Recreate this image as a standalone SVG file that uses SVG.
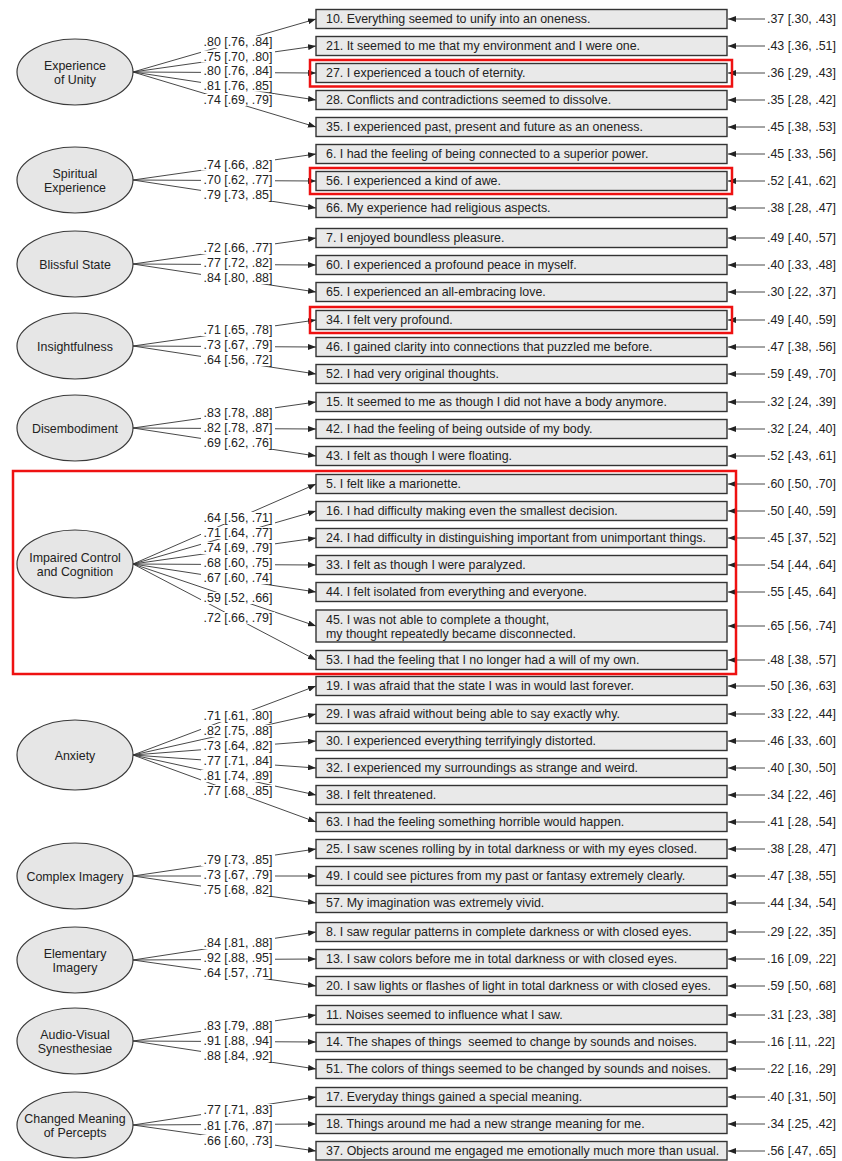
<svg xmlns="http://www.w3.org/2000/svg" width="842" height="1161" viewBox="0 0 842 1161">
<defs>
<marker id="ah" viewBox="0 0 8 6" refX="8" refY="3" markerWidth="8" markerHeight="6" markerUnits="userSpaceOnUse" orient="auto"><path d="M0,0 L8,3 L0,6 z" fill="#222"/></marker>
<style>
.bg{fill:#fff}
.lat ellipse{fill:#e6e6e6;stroke:#3a3a3a;stroke-width:1.2}
.lat text{font-family:"Liberation Sans",Arial,sans-serif;font-size:12.4px;fill:#222;text-anchor:middle}
.item rect.b{fill:#e9e9e9;stroke:#333;stroke-width:1.4}
.item text{font-family:"Liberation Sans",Arial,sans-serif;font-size:12.4px;fill:#222}
.c line{stroke:#333;stroke-width:0.9;fill:none;marker-end:url(#ah)}
.lb rect{fill:#fff}
.lb text{font-family:"Liberation Sans",Arial,sans-serif;font-size:12.4px;fill:#222;text-anchor:middle}
.rl text{font-family:"Liberation Sans",Arial,sans-serif;font-size:12.4px;fill:#222}
.hl{fill:none;stroke:#ee1111;stroke-width:2.5}
</style>
</defs>
<rect class="bg" x="0" y="0" width="842" height="1161"/>

<g id="connectors" class="c">
<!-- Experience of Unity -->
<line x1="133" y1="72" x2="316" y2="19"/><line x1="133" y1="72" x2="316" y2="46"/><line x1="133" y1="72" x2="316" y2="73"/><line x1="133" y1="72" x2="316" y2="100"/><line x1="133" y1="72" x2="316" y2="127"/>
<!-- Spiritual -->
<line x1="133" y1="180" x2="316" y2="154"/><line x1="133" y1="180" x2="316" y2="181"/><line x1="133" y1="180" x2="316" y2="208"/>
<!-- Blissful -->
<line x1="133" y1="264" x2="316" y2="238"/><line x1="133" y1="264" x2="316" y2="265"/><line x1="133" y1="264" x2="316" y2="292"/>
<!-- Insightfulness -->
<line x1="133" y1="346" x2="316" y2="320"/><line x1="133" y1="346" x2="316" y2="347"/><line x1="133" y1="346" x2="316" y2="374"/>
<!-- Disembodiment -->
<line x1="133" y1="428" x2="316" y2="402"/><line x1="133" y1="428" x2="316" y2="429"/><line x1="133" y1="428" x2="316" y2="456"/>
<!-- Impaired -->
<line x1="133" y1="564" x2="316" y2="484"/><line x1="133" y1="564" x2="316" y2="511"/><line x1="133" y1="564" x2="316" y2="538"/><line x1="133" y1="564" x2="316" y2="565"/><line x1="133" y1="564" x2="316" y2="592"/><line x1="133" y1="564" x2="316" y2="626"/><line x1="133" y1="564" x2="316" y2="660"/>
<!-- Anxiety -->
<line x1="133" y1="755" x2="316" y2="686"/><line x1="133" y1="755" x2="316" y2="714"/><line x1="133" y1="755" x2="316" y2="741"/><line x1="133" y1="755" x2="316" y2="768"/><line x1="133" y1="755" x2="316" y2="795"/><line x1="133" y1="755" x2="316" y2="822"/>
<!-- Complex -->
<line x1="133" y1="876" x2="316" y2="849"/><line x1="133" y1="876" x2="316" y2="876"/><line x1="133" y1="876" x2="316" y2="903"/>
<!-- Elementary -->
<line x1="133" y1="960" x2="316" y2="932"/><line x1="133" y1="960" x2="316" y2="959"/><line x1="133" y1="960" x2="316" y2="986"/>
<!-- Audio-Visual -->
<line x1="133" y1="1041" x2="316" y2="1015"/><line x1="133" y1="1041" x2="316" y2="1042"/><line x1="133" y1="1041" x2="316" y2="1069"/>
<!-- Changed Meaning -->
<line x1="133" y1="1125" x2="316" y2="1097"/><line x1="133" y1="1125" x2="316" y2="1124"/><line x1="133" y1="1125" x2="316" y2="1151"/>
<!-- error arrows -->
<line x1="765" y1="19" x2="728" y2="19"/><line x1="765" y1="46" x2="728" y2="46"/><line x1="765" y1="73" x2="728" y2="73"/><line x1="765" y1="100" x2="728" y2="100"/><line x1="765" y1="127" x2="728" y2="127"/>
<line x1="765" y1="154" x2="728" y2="154"/><line x1="765" y1="181" x2="728" y2="181"/><line x1="765" y1="208" x2="728" y2="208"/>
<line x1="765" y1="238" x2="728" y2="238"/><line x1="765" y1="265" x2="728" y2="265"/><line x1="765" y1="292" x2="728" y2="292"/>
<line x1="765" y1="320" x2="728" y2="320"/><line x1="765" y1="347" x2="728" y2="347"/><line x1="765" y1="374" x2="728" y2="374"/>
<line x1="765" y1="402" x2="728" y2="402"/><line x1="765" y1="429" x2="728" y2="429"/><line x1="765" y1="456" x2="728" y2="456"/>
<line x1="765" y1="484" x2="728" y2="484"/><line x1="765" y1="511" x2="728" y2="511"/><line x1="765" y1="538" x2="728" y2="538"/><line x1="765" y1="565" x2="728" y2="565"/><line x1="765" y1="592" x2="728" y2="592"/><line x1="765" y1="626" x2="728" y2="626"/><line x1="765" y1="660" x2="728" y2="660"/>
<line x1="765" y1="686" x2="728" y2="686"/><line x1="765" y1="714" x2="728" y2="714"/><line x1="765" y1="741" x2="728" y2="741"/><line x1="765" y1="768" x2="728" y2="768"/><line x1="765" y1="795" x2="728" y2="795"/><line x1="765" y1="822" x2="728" y2="822"/>
<line x1="765" y1="849" x2="728" y2="849"/><line x1="765" y1="876" x2="728" y2="876"/><line x1="765" y1="903" x2="728" y2="903"/>
<line x1="765" y1="932" x2="728" y2="932"/><line x1="765" y1="959" x2="728" y2="959"/><line x1="765" y1="986" x2="728" y2="986"/>
<line x1="765" y1="1015" x2="728" y2="1015"/><line x1="765" y1="1042" x2="728" y2="1042"/><line x1="765" y1="1069" x2="728" y2="1069"/>
<line x1="765" y1="1097" x2="728" y2="1097"/><line x1="765" y1="1124" x2="728" y2="1124"/><line x1="765" y1="1151" x2="728" y2="1151"/>
</g>

<g id="loadings" class="lb">
<rect x="201" y="36" width="74" height="12"/><text x="238" y="46.4">.80 [.76, .84]</text>
<rect x="201" y="50.5" width="74" height="12"/><text x="238" y="60.9">.75 [.70, .80]</text>
<rect x="201" y="65" width="74" height="12"/><text x="238" y="75.4">.80 [.76, .84]</text>
<rect x="201" y="79.5" width="74" height="12"/><text x="238" y="89.9">.81 [.76, .85]</text>
<rect x="201" y="94" width="74" height="12"/><text x="238" y="104.4">.74 [.69, .79]</text>

<rect x="201" y="158.5" width="74" height="12"/><text x="238" y="168.9">.74 [.66, .82]</text>
<rect x="201" y="174" width="74" height="12"/><text x="238" y="184.4">.70 [.62, .77]</text>
<rect x="201" y="189" width="74" height="12"/><text x="238" y="199.4">.79 [.73, .85]</text>

<rect x="201" y="242" width="74" height="12"/><text x="238" y="252.4">.72 [.66, .77]</text>
<rect x="201" y="257" width="74" height="12"/><text x="238" y="267.4">.77 [.72, .82]</text>
<rect x="201" y="272" width="74" height="12"/><text x="238" y="282.4">.84 [.80, .88]</text>

<rect x="201" y="324" width="74" height="12"/><text x="238" y="334.4">.71 [.65, .78]</text>
<rect x="201" y="339" width="74" height="12"/><text x="238" y="349.4">.73 [.67, .79]</text>
<rect x="201" y="354" width="74" height="12"/><text x="238" y="364.4">.64 [.56, .72]</text>

<rect x="201" y="407" width="74" height="12"/><text x="238" y="417.4">.83 [.78, .88]</text>
<rect x="201" y="422" width="74" height="12"/><text x="238" y="432.4">.82 [.78, .87]</text>
<rect x="201" y="437" width="74" height="12"/><text x="238" y="447.4">.69 [.62, .76]</text>

<rect x="201" y="512" width="74" height="12"/><text x="238" y="522.4">.64 [.56, .71]</text>
<rect x="201" y="527" width="74" height="12"/><text x="238" y="537.4">.71 [.64, .77]</text>
<rect x="201" y="542" width="74" height="12"/><text x="238" y="552.4">.74 [.69, .79]</text>
<rect x="201" y="557" width="74" height="12"/><text x="238" y="567.4">.68 [.60, .75]</text>
<rect x="201" y="572" width="74" height="12"/><text x="238" y="582.4">.67 [.60, .74]</text>
<rect x="201" y="592" width="74" height="12"/><text x="238" y="602.4">.59 [.52, .66]</text>
<rect x="201" y="612" width="74" height="12"/><text x="238" y="622.4">.72 [.66, .79]</text>

<rect x="201" y="710" width="74" height="12"/><text x="238" y="720.4">.71 [.61, .80]</text>
<rect x="201" y="725" width="74" height="12"/><text x="238" y="735.4">.82 [.75, .88]</text>
<rect x="201" y="740" width="74" height="12"/><text x="238" y="750.4">.73 [.64, .82]</text>
<rect x="201" y="755" width="74" height="12"/><text x="238" y="765.4">.77 [.71, .84]</text>
<rect x="201" y="770" width="74" height="12"/><text x="238" y="780.4">.81 [.74, .89]</text>
<rect x="201" y="785" width="74" height="12"/><text x="238" y="795.4">.77 [.68, .85]</text>

<rect x="201" y="854" width="74" height="12"/><text x="238" y="864.4">.79 [.73, .85]</text>
<rect x="201" y="869" width="74" height="12"/><text x="238" y="879.4">.73 [.67, .79]</text>
<rect x="201" y="884" width="74" height="12"/><text x="238" y="894.4">.75 [.68, .82]</text>

<rect x="201" y="937" width="74" height="12"/><text x="238" y="947.4">.84 [.81, .88]</text>
<rect x="201" y="952" width="74" height="12"/><text x="238" y="962.4">.92 [.88, .95]</text>
<rect x="201" y="967" width="74" height="12"/><text x="238" y="977.4">.64 [.57, .71]</text>

<rect x="201" y="1020" width="74" height="12"/><text x="238" y="1030.4">.83 [.79, .88]</text>
<rect x="201" y="1035" width="74" height="12"/><text x="238" y="1045.4">.91 [.88, .94]</text>
<rect x="201" y="1050" width="74" height="12"/><text x="238" y="1060.4">.88 [.84, .92]</text>

<rect x="201" y="1104" width="74" height="12"/><text x="238" y="1114.4">.77 [.71, .83]</text>
<rect x="201" y="1120" width="74" height="12"/><text x="238" y="1130.4">.81 [.76, .87]</text>
<rect x="201" y="1135" width="74" height="12"/><text x="238" y="1145.4">.66 [.60, .73]</text>
</g>

<g id="errors" class="rl">
<text x="767" y="23.4">.37 [.30, .43]</text><text x="767" y="50.4">.43 [.36, .51]</text><text x="767" y="77.4">.36 [.29, .43]</text><text x="767" y="104.4">.35 [.28, .42]</text><text x="767" y="131.4">.45 [.38, .53]</text>
<text x="767" y="158.4">.45 [.33, .56]</text><text x="767" y="185.4">.52 [.41, .62]</text><text x="767" y="212.4">.38 [.28, .47]</text>
<text x="767" y="242.4">.49 [.40, .57]</text><text x="767" y="269.4">.40 [.33, .48]</text><text x="767" y="296.4">.30 [.22, .37]</text>
<text x="767" y="324.4">.49 [.40, .59]</text><text x="767" y="351.4">.47 [.38, .56]</text><text x="767" y="378.4">.59 [.49, .70]</text>
<text x="767" y="406.4">.32 [.24, .39]</text><text x="767" y="433.4">.32 [.24, .40]</text><text x="767" y="460.4">.52 [.43, .61]</text>
<text x="767" y="488.4">.60 [.50, .70]</text><text x="767" y="515.4">.50 [.40, .59]</text><text x="767" y="542.4">.45 [.37, .52]</text><text x="767" y="569.4">.54 [.44, .64]</text><text x="767" y="596.4">.55 [.45, .64]</text><text x="767" y="630.4">.65 [.56, .74]</text><text x="767" y="664.4">.48 [.38, .57]</text>
<text x="767" y="690.4">.50 [.36, .63]</text><text x="767" y="718.4">.33 [.22, .44]</text><text x="767" y="745.4">.46 [.33, .60]</text><text x="767" y="772.4">.40 [.30, .50]</text><text x="767" y="799.4">.34 [.22, .46]</text><text x="767" y="826.4">.41 [.28, .54]</text>
<text x="767" y="853.4">.38 [.28, .47]</text><text x="767" y="880.4">.47 [.38, .55]</text><text x="767" y="907.4">.44 [.34, .54]</text>
<text x="767" y="936.4">.29 [.22, .35]</text><text x="767" y="963.4">.16 [.09, .22]</text><text x="767" y="990.4">.59 [.50, .68]</text>
<text x="767" y="1019.4">.31 [.23, .38]</text><text x="767" y="1046.4">.16 [.11, .22]</text><text x="767" y="1073.4">.22 [.16, .29]</text>
<text x="767" y="1101.4">.40 [.31, .50]</text><text x="767" y="1128.4">.34 [.25, .42]</text><text x="767" y="1155.4">.56 [.47, .65]</text>
</g>

<g id="latent-unity" class="lat"><ellipse cx="75" cy="72" rx="58" ry="33"/><text x="75" y="70">Experience</text><text x="75" y="84">of Unity</text></g>
<g id="latent-spiritual" class="lat"><ellipse cx="75" cy="180" rx="58" ry="33"/><text x="75" y="178">Spiritual</text><text x="75" y="192">Experience</text></g>
<g id="latent-blissful" class="lat"><ellipse cx="75" cy="264" rx="58" ry="33"/><text x="75" y="268.5">Blissful State</text></g>
<g id="latent-insight" class="lat"><ellipse cx="75" cy="346" rx="58" ry="33"/><text x="75" y="350.5">Insightfulness</text></g>
<g id="latent-disembodiment" class="lat"><ellipse cx="75" cy="428" rx="58" ry="33"/><text x="75" y="432.5">Disembodiment</text></g>
<g id="latent-impaired" class="lat"><ellipse cx="75" cy="564" rx="58" ry="34"/><text x="75" y="562">Impaired Control</text><text x="75" y="576">and Cognition</text></g>
<g id="latent-anxiety" class="lat"><ellipse cx="75" cy="755" rx="58" ry="35"/><text x="75" y="759.5">Anxiety</text></g>
<g id="latent-complex" class="lat"><ellipse cx="75" cy="876" rx="58" ry="33"/><text x="75" y="880.5">Complex Imagery</text></g>
<g id="latent-elementary" class="lat"><ellipse cx="75" cy="960" rx="58" ry="33"/><text x="75" y="958">Elementary</text><text x="75" y="972">Imagery</text></g>
<g id="latent-audiovisual" class="lat"><ellipse cx="75" cy="1041" rx="58" ry="33"/><text x="75" y="1039">Audio-Visual</text><text x="75" y="1053">Synesthesiae</text></g>
<g id="latent-changed" class="lat"><ellipse cx="75" cy="1125" rx="58" ry="33"/><text x="75" y="1123">Changed Meaning</text><text x="75" y="1137">of Percepts</text></g>

<g id="item10" class="item"><rect class="b" x="316" y="9.5" width="411" height="19"/><text x="326" y="23.4">10. Everything seemed to unify into an oneness.</text></g>
<g id="item21" class="item"><rect class="b" x="316" y="36.5" width="411" height="19"/><text x="326" y="50.4">21. It seemed to me that my environment and I were one.</text></g>
<g id="item27" class="item"><rect class="b" x="316" y="63.5" width="411" height="19"/><text x="326" y="77.4">27. I experienced a touch of eternity.</text></g>
<g id="item28" class="item"><rect class="b" x="316" y="90.5" width="411" height="19"/><text x="326" y="104.4">28. Conflicts and contradictions seemed to dissolve.</text></g>
<g id="item35" class="item"><rect class="b" x="316" y="117.5" width="411" height="19"/><text x="326" y="131.4">35. I experienced past, present and future as an oneness.</text></g>
<g id="item6" class="item"><rect class="b" x="316" y="144.5" width="411" height="19"/><text x="326" y="158.4">6. I had the feeling of being connected to a superior power.</text></g>
<g id="item56" class="item"><rect class="b" x="316" y="171.5" width="411" height="19"/><text x="326" y="185.4">56. I experienced a kind of awe.</text></g>
<g id="item66" class="item"><rect class="b" x="316" y="198.5" width="411" height="19"/><text x="326" y="212.4">66. My experience had religious aspects.</text></g>
<g id="item7" class="item"><rect class="b" x="316" y="228.5" width="411" height="19"/><text x="326" y="242.4">7. I enjoyed boundless pleasure.</text></g>
<g id="item60" class="item"><rect class="b" x="316" y="255.5" width="411" height="19"/><text x="326" y="269.4">60. I experienced a profound peace in myself.</text></g>
<g id="item65" class="item"><rect class="b" x="316" y="282.5" width="411" height="19"/><text x="326" y="296.4">65. I experienced an all-embracing love.</text></g>
<g id="item34" class="item"><rect class="b" x="316" y="310.5" width="411" height="19"/><text x="326" y="324.4">34. I felt very profound.</text></g>
<g id="item46" class="item"><rect class="b" x="316" y="337.5" width="411" height="19"/><text x="326" y="351.4">46. I gained clarity into connections that puzzled me before.</text></g>
<g id="item52" class="item"><rect class="b" x="316" y="364.5" width="411" height="19"/><text x="326" y="378.4">52. I had very original thoughts.</text></g>
<g id="item15" class="item"><rect class="b" x="316" y="392.5" width="411" height="19"/><text x="326" y="406.4">15. It seemed to me as though I did not have a body anymore.</text></g>
<g id="item42" class="item"><rect class="b" x="316" y="419.5" width="411" height="19"/><text x="326" y="433.4">42. I had the feeling of being outside of my body.</text></g>
<g id="item43" class="item"><rect class="b" x="316" y="446.5" width="411" height="19"/><text x="326" y="460.4">43. I felt as though I were floating.</text></g>
<g id="item5" class="item"><rect class="b" x="316" y="474.5" width="411" height="19"/><text x="326" y="488.4">5. I felt like a marionette.</text></g>
<g id="item16" class="item"><rect class="b" x="316" y="501.5" width="411" height="19"/><text x="326" y="515.4">16. I had difficulty making even the smallest decision.</text></g>
<g id="item24" class="item"><rect class="b" x="316" y="528.5" width="411" height="19"/><text x="326" y="542.4">24. I had difficulty in distinguishing important from unimportant things.</text></g>
<g id="item33" class="item"><rect class="b" x="316" y="555.5" width="411" height="19"/><text x="326" y="569.4">33. I felt as though I were paralyzed.</text></g>
<g id="item44" class="item"><rect class="b" x="316" y="582.5" width="411" height="19"/><text x="326" y="596.4">44. I felt isolated from everything and everyone.</text></g>
<g id="item45" class="item"><rect class="b" x="316" y="610" width="411" height="32"/><text x="326" y="624.4">45. I was not able to complete a thought,</text><text x="326" y="638.4">my thought repeatedly became disconnected.</text></g>
<g id="item53" class="item"><rect class="b" x="316" y="650.5" width="411" height="19"/><text x="326" y="664.4">53. I had the feeling that I no longer had a will of my own.</text></g>
<g id="item19" class="item"><rect class="b" x="316" y="676.5" width="411" height="19"/><text x="326" y="690.4">19. I was afraid that the state I was in would last forever.</text></g>
<g id="item29" class="item"><rect class="b" x="316" y="704.5" width="411" height="19"/><text x="326" y="718.4">29. I was afraid without being able to say exactly why.</text></g>
<g id="item30" class="item"><rect class="b" x="316" y="731.5" width="411" height="19"/><text x="326" y="745.4">30. I experienced everything terrifyingly distorted.</text></g>
<g id="item32" class="item"><rect class="b" x="316" y="758.5" width="411" height="19"/><text x="326" y="772.4">32. I experienced my surroundings as strange and weird.</text></g>
<g id="item38" class="item"><rect class="b" x="316" y="785.5" width="411" height="19"/><text x="326" y="799.4">38. I felt threatened.</text></g>
<g id="item63" class="item"><rect class="b" x="316" y="812.5" width="411" height="19"/><text x="326" y="826.4">63. I had the feeling something horrible would happen.</text></g>
<g id="item25" class="item"><rect class="b" x="316" y="839.5" width="411" height="19"/><text x="326" y="853.4">25. I saw scenes rolling by in total darkness or with my eyes closed.</text></g>
<g id="item49" class="item"><rect class="b" x="316" y="866.5" width="411" height="19"/><text x="326" y="880.4">49. I could see pictures from my past or fantasy extremely clearly.</text></g>
<g id="item57" class="item"><rect class="b" x="316" y="893.5" width="411" height="19"/><text x="326" y="907.4">57. My imagination was extremely vivid.</text></g>
<g id="item8" class="item"><rect class="b" x="316" y="922.5" width="411" height="19"/><text x="326" y="936.4">8. I saw regular patterns in complete darkness or with closed eyes.</text></g>
<g id="item13" class="item"><rect class="b" x="316" y="949.5" width="411" height="19"/><text x="326" y="963.4">13. I saw colors before me in total darkness or with closed eyes.</text></g>
<g id="item20" class="item"><rect class="b" x="316" y="976.5" width="411" height="19"/><text x="326" y="990.4">20. I saw lights or flashes of light in total darkness or with closed eyes.</text></g>
<g id="item11" class="item"><rect class="b" x="316" y="1005.5" width="411" height="19"/><text x="326" y="1019.4">11. Noises seemed to influence what I saw.</text></g>
<g id="item14" class="item"><rect class="b" x="316" y="1032.5" width="411" height="19"/><text x="326" y="1046.4" xml:space="preserve">14. The shapes of things  seemed to change by sounds and noises.</text></g>
<g id="item51" class="item"><rect class="b" x="316" y="1059.5" width="411" height="19"/><text x="326" y="1073.4">51. The colors of things seemed to be changed by sounds and noises.</text></g>
<g id="item17" class="item"><rect class="b" x="316" y="1087.5" width="411" height="19"/><text x="326" y="1101.4">17. Everyday things gained a special meaning.</text></g>
<g id="item18" class="item"><rect class="b" x="316" y="1114.5" width="411" height="19"/><text x="326" y="1128.4">18. Things around me had a new strange meaning for me.</text></g>
<g id="item37" class="item"><rect class="b" x="316" y="1141.5" width="411" height="18.5"/><text x="326" y="1155.4">37. Objects around me engaged me emotionally much more than usual.</text></g>

<g id="highlights">
<rect class="hl" x="310" y="60" width="422" height="26.5"/>
<rect class="hl" x="310" y="168" width="422" height="26"/>
<rect class="hl" x="310" y="307" width="422" height="26"/>
<rect class="hl" x="13" y="471" width="723" height="203"/>
</g>
</svg>
